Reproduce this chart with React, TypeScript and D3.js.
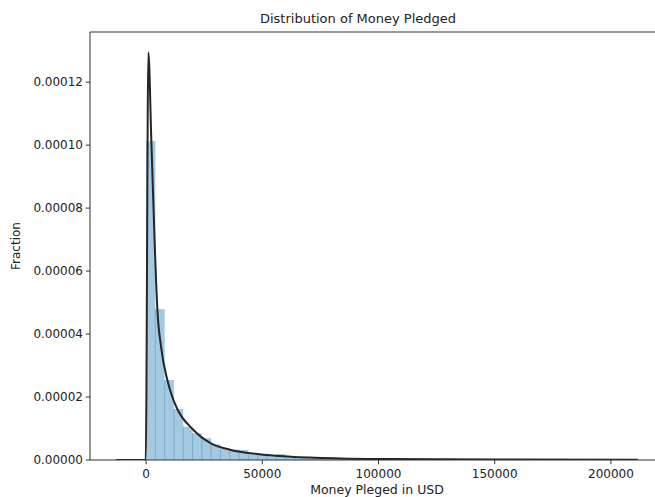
import React from "react";
import * as d3 from "d3";

// Histogram: 50 bins of 4000 USD, density values (fraction per USD)
const binWidth = 4000;
const binDensity = [
  10.13e-5, 4.79e-5, 2.54e-5, 1.62e-5, 1.06e-5, 0.85e-5, 0.69e-5, 0.5e-5, 0.35e-5, 0.33e-5,
  0.32e-5, 0.18e-5, 0.16e-5, 0.16e-5, 0.19e-5, 0.1e-5, 0.09e-5, 0.07e-5, 0.07e-5, 0.06e-5,
  0.06e-5, 0.05e-5, 0.045e-5, 0.04e-5, 0.035e-5, 0.035e-5, 0.03e-5, 0.028e-5, 0.025e-5, 0.03e-5,
  0.02e-5, 0.018e-5, 0.016e-5, 0.015e-5, 0.014e-5, 0.013e-5, 0.012e-5, 0.012e-5, 0.011e-5, 0.01e-5,
  0.01e-5, 0.009e-5, 0.009e-5, 0.008e-5, 0.008e-5, 0.007e-5, 0.007e-5, 0.006e-5, 0.006e-5, 0.005e-5,
];

// Fitted curve
const fitX = [
  -12900, -150, 990, 2270, 3730, 4850, 6440, 9140, 11300, 13430, 20170, 27900, 36500, 47900,
  62200, 83700, 105000, 150000, 211600,
];
const fitY = [
  0, 0, 12.94e-5, 10.13e-5, 6.83e-5, 4.79e-5, 3.6e-5, 2.54e-5, 2.0e-5, 1.62e-5, 0.97e-5, 0.53e-5,
  0.32e-5, 0.19e-5, 0.105e-5, 0.05e-5, 0.03e-5, 0.015e-5, 0.008e-5,
];

const xTicks = [0, 50000, 100000, 150000, 200000];
const yTicks = [0, 0.00002, 0.00004, 0.00006, 0.00008, 0.0001, 0.00012];

const W = 655;
const H = 497;
const L = 90;
const R = 664;
const T = 32;
const B = 460;
const FONT = "DejaVu Sans, sans-serif";

export default function App() {
  const x = d3.scaleLinear().domain([-24125, 222825]).range([L, R]);
  const y = d3.scaleLinear().domain([0, 0.00013593]).range([B, T]);

  const bars = binDensity.map((v, i) => ({ x0: i * binWidth, x1: (i + 1) * binWidth, v }));
  const line = d3
    .line<number>()
    .x((_, i) => x(fitX[i]))
    .y((d) => y(d))
    .curve(d3.curveMonotoneX);

  return (
    <svg
      width={W}
      height={H}
      style={{ position: "absolute", left: 0, top: 0, background: "#fff" }}
      fontFamily={FONT}
    >
      <defs>
        <clipPath id="plot">
          <rect x={L} y={T} width={R - L} height={B - T} />
        </clipPath>
      </defs>
      <g clipPath="url(#plot)">
        {bars.map((b, i) => (
          <rect
            key={i}
            x={x(b.x0)}
            y={y(b.v)}
            width={x(b.x1) - x(b.x0)}
            height={B - y(b.v)}
            fill="#1f77b4"
            fillOpacity={0.4}
          />
        ))}
        {bars.slice(1).map((b, i) => {
          const h = Math.min(b.v, bars[i].v);
          return (
            <line
              key={"s" + i}
              x1={x(b.x0)}
              x2={x(b.x0)}
              y1={B}
              y2={y(h)}
              stroke="#1f77b4"
              strokeOpacity={0.45}
              strokeWidth={0.8}
            />
          );
        })}
        <path d={line(fitY) || ""} fill="none" stroke="#262626" strokeWidth={2} strokeLinejoin="round" />
      </g>

      {/* spines */}
      <line x1={L} x2={L} y1={T} y2={B} stroke="#333" strokeWidth={1} />
      <line x1={L} x2={R} y1={B} y2={B} stroke="#333" strokeWidth={1} />
      <line x1={L} x2={R} y1={T} y2={T} stroke="#333" strokeWidth={1} />
      <line x1={R} x2={R} y1={T} y2={B} stroke="#333" strokeWidth={1} />

      {/* x ticks */}
      {xTicks.map((t) => (
        <g key={t} transform={`translate(${x(t)},${B})`}>
          <line y1={0} y2={4.2} stroke="#333" strokeWidth={1} />
          <text y={17.5} textAnchor="middle" fontSize={12} fill="#222">
            {t}
          </text>
        </g>
      ))}
      {/* y ticks */}
      {yTicks.map((t) => (
        <g key={t} transform={`translate(${L},${y(t)})`}>
          <line x1={0} x2={-4.2} stroke="#333" strokeWidth={1} />
          <text x={-7} dy="0.35em" textAnchor="end" fontSize={12} fill="#222">
            {t.toFixed(5)}
          </text>
        </g>
      ))}

      <text x={358} y={23} textAnchor="middle" fontSize={13} fill="#222">
        Distribution of Money Pledged
      </text>
      <text x={(L + R) / 2} y={494} textAnchor="middle" fontSize={12.5} fill="#222">
        Money Pleged in USD
      </text>
      <text
        transform={`translate(20,${(T + B) / 2}) rotate(-90)`}
        textAnchor="middle"
        fontSize={12}
        fill="#222"
      >
        Fraction
      </text>
    </svg>
  );
}
